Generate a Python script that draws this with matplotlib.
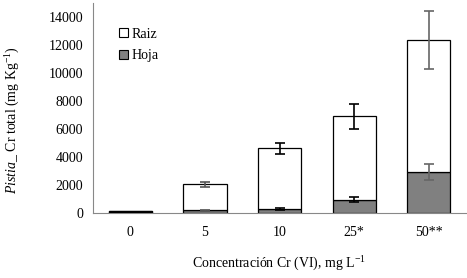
import matplotlib
matplotlib.use("Agg")
import matplotlib.pyplot as plt
from matplotlib.patches import Patch

categories = ["0", "5", "10", "25*", "50**"]
hoja = [60, 200, 280, 950, 2900]
raiz = [60, 1850, 4320, 5950, 9450]
hoja_err = [0, 40, 60, 170, 570]
raiz_err = [0, 190, 410, 900, 2070]
yticks = [0, 2000, 4000, 6000, 8000, 10000, 12000, 14000]

plt.rcParams['font.family'] = ['Liberation Serif', 'DejaVu Serif']
plt.rcParams['mathtext.fontset'] = 'custom'
plt.rcParams['mathtext.rm'] = 'Liberation Serif'
plt.rcParams['mathtext.it'] = 'Liberation Serif:italic'
plt.rcParams['mathtext.default'] = 'rm'

fig = plt.figure(figsize=(4.67, 2.78), dpi=100)
ax = fig.add_axes([93/467, 1-213/278, 1-93/467-0.002, (213-2.6)/278])

x = list(range(len(categories)))
w = 0.58
ax.bar(x, hoja, width=w, color='#808080', edgecolor='black', linewidth=0.9, zorder=2)
ax.bar(x, raiz, width=w, bottom=hoja, color='white', edgecolor='black', linewidth=0.9, zorder=2)
# bar 0 is nearly flat, drawn black
ax.bar([0], [hoja[0] + raiz[0]], width=w, color='black', edgecolor='black', linewidth=0.9, zorder=3)

ecols = ['black', '#555555', 'black', 'black', '#666666']
for i in range(1, len(categories)):
    tot = hoja[i] + raiz[i]
    ax.errorbar(x[i], tot, yerr=raiz_err[i], fmt='none', ecolor=ecols[i], elinewidth=1.2,
                capsize=3.5, capthick=1.2, zorder=4)
    ax.errorbar(x[i], hoja[i], yerr=hoja_err[i], fmt='none', ecolor=ecols[i], elinewidth=1.2,
                capsize=3.5, capthick=1.2, zorder=4)

ax.set_xlim(-0.5, 4.5)
ax.set_ylim(0, 15000)
ax.set_yticks(yticks)
ax.set_yticklabels([str(v) for v in yticks], fontsize=10)
ax.set_xticks(x)
ax.set_xticklabels(categories, fontsize=10)
ax.tick_params(axis='both', length=0, pad=7)
ax.tick_params(axis='x', pad=9)
for s in ['top', 'right']:
    ax.spines[s].set_visible(False)
ax.spines['left'].set_color('#888888')
ax.spines['bottom'].set_color('#888888')

ax.set_ylabel(r"$\it{Pistia}$_ Cr total (mg Kg$^{\mathrm{-1}}$)", fontsize=10)
ax.yaxis.set_label_coords(-0.19, 0.44)
ax.set_xlabel(r"Concentración Cr (VI), mg L$^{\mathrm{-1}}$", fontsize=10, labelpad=12)

handles = [Patch(facecolor='white', edgecolor='black', linewidth=0.8, label='Raiz'),
           Patch(facecolor='#808080', edgecolor='black', linewidth=0.8, label='Hoja')]
ax.legend(handles=handles, loc='upper left', bbox_to_anchor=(0.035, 0.94), frameon=False,
          fontsize=10, handlelength=0.65, handleheight=0.65, handletextpad=0.3, labelspacing=0.6)

fig.savefig("out.png", dpi=100)
